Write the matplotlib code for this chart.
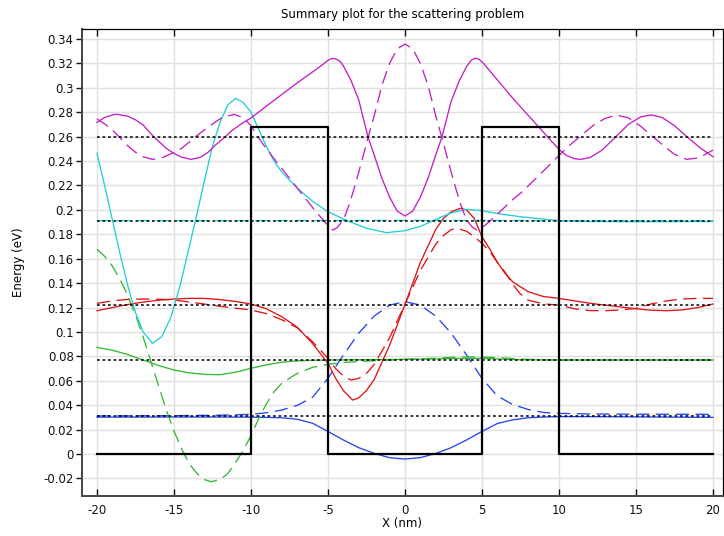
import matplotlib
matplotlib.use('Agg')
import matplotlib.pyplot as plt
from matplotlib.ticker import FuncFormatter, MultipleLocator

plt.rcParams['font.family'] = 'DejaVu Sans'
plt.rcParams['axes.unicode_minus'] = False

# ---------------- data ----------------
# double barrier potential
pot_x = [-20, -10, -10, -5, -5, 5, 5, 10, 10, 20]
pot_v = [0, 0, 0.268, 0.268, 0, 0, 0.268, 0.268, 0, 0]

# eigen energies (dotted lines)
levels = [0.0311, 0.0769, 0.1222, 0.1911, 0.2597]

# level 1 (blue)
blue_x = [-20, -15, -12, -10, -9, -8, -7, -6, -5, -4, -3, -2, -1, 0,
          1, 2, 3, 4, 5, 6, 7, 8, 9, 10, 12, 15, 20]
blue_re = [0.0302, 0.0303, 0.0303, 0.0302, 0.0300, 0.0297, 0.0285, 0.0252, 0.0185,
           0.0115, 0.0052, 0.0005, -0.0030, -0.0041, -0.0030, 0.0005, 0.0052, 0.0115,
           0.0185, 0.0250, 0.0280, 0.0297, 0.0303, 0.0306, 0.0306, 0.0304, 0.0300]
blue_im = [0.0312, 0.0314, 0.0318, 0.0325, 0.0338, 0.0360, 0.0398, 0.0465, 0.0620,
           0.0810, 0.0990, 0.1130, 0.1220, 0.1248, 0.1220, 0.1130, 0.0990, 0.0810,
           0.0620, 0.0475, 0.0405, 0.0365, 0.0340, 0.0333, 0.0328, 0.0326, 0.0325]

# level 2 (green)
green_x_re = [-20, -19, -18, -17, -16, -15, -14, -13, -12, -11, -10, -9, -8, -7,
              -6, -5, -3, 0, 3, 5, 7.5, 10, 20]
green_re = [0.0874, 0.0850, 0.0815, 0.0770, 0.0725, 0.0688, 0.0665, 0.0652, 0.0650,
            0.0670, 0.0702, 0.0730, 0.0752, 0.0763, 0.0768, 0.0770, 0.0772, 0.0776,
            0.0782, 0.0784, 0.0772, 0.0770, 0.0770]
green_x_im = [-20, -19.5, -19, -18.5, -18, -17.5, -17, -16.5, -16, -15.5, -15, -14.5,
              -14, -13.5, -13, -12.6, -12, -11.5, -11, -10.5, -10, -9.5, -9, -8.5,
              -8, -7, -6, -5, -4, -2, 0, 2, 3.5, 5, 6, 7.5, 9, 10, 20]
green_im = [0.1677, 0.1620, 0.1540, 0.1430, 0.1300, 0.1140, 0.0960, 0.0760, 0.0560,
            0.0360, 0.0190, 0.0040, -0.0080, -0.0160, -0.0210, -0.0227, -0.0210,
            -0.0160, -0.0070, 0.0030, 0.0150, 0.0290, 0.0410, 0.0510, 0.0580, 0.0660,
            0.0710, 0.0735, 0.0750, 0.0765, 0.0775, 0.0785, 0.0795, 0.0795, 0.0790,
            0.0778, 0.0772, 0.0770, 0.0770]

# level 3 (red)
red_x_re = [-20, -19, -18, -17, -16, -15, -14, -13, -12, -11, -10, -9, -8, -7, -6,
            -5, -4.5, -4, -3.4, -3, -2.5, -2, -1, 0, 1, 2, 2.5, 3, 3.6, 4, 4.5, 5,
            5.5, 6, 6.5, 7, 7.5, 8, 9, 10, 11, 12, 13, 14, 15, 16, 17, 18, 19, 20]
red_re = [0.1174, 0.1200, 0.1225, 0.1245, 0.1260, 0.1270, 0.1275, 0.1275, 0.1265,
          0.1250, 0.1229, 0.1190, 0.1125, 0.1040, 0.0905, 0.0743, 0.0620, 0.0520,
          0.0442, 0.0460, 0.0520, 0.0610, 0.0890, 0.1225, 0.1570, 0.1840, 0.1930,
          0.1985, 0.2013, 0.2000, 0.1930, 0.1780, 0.1680, 0.1570, 0.1480, 0.1410,
          0.1370, 0.1330, 0.1290, 0.1275, 0.1255, 0.1235, 0.1220, 0.1205, 0.1190,
          0.1178, 0.1174, 0.1180, 0.1200, 0.1229]
red_x_im = [-20, -19, -18, -17, -16, -15, -14, -13, -12, -11, -10, -9, -8, -7, -6,
            -5, -4.5, -4, -3.5, -3, -2.5, -2, -1, 0, 1, 2, 2.5, 3, 3.4, 4, 4.5, 5,
            5.5, 6, 6.5, 7, 7.5, 8, 9, 10, 11, 12, 13, 14, 15, 16, 17, 18, 19, 20]
red_im = [0.1234, 0.1255, 0.1267, 0.1270, 0.1268, 0.1262, 0.1245, 0.1228, 0.1210,
          0.1195, 0.1180, 0.1150, 0.1100, 0.1035, 0.0920, 0.0784, 0.0700, 0.0640,
          0.0606, 0.0620, 0.0660, 0.0733, 0.0952, 0.1228, 0.1504, 0.1720, 0.1790,
          0.1838, 0.1849, 0.1825, 0.1780, 0.1726, 0.1660, 0.1570, 0.1490, 0.1390,
          0.1310, 0.1260, 0.1230, 0.1220, 0.1190, 0.1175, 0.1174, 0.1180, 0.1193,
          0.1230, 0.1255, 0.1270, 0.1275, 0.1275]

# level 4 (cyan)
cyan_x_re = [-20, -19.5, -19, -18.5, -18, -17.5, -17, -16.4, -15.8, -15.2, -14.6,
             -14, -13.5, -13, -12.5, -12, -11.5, -11, -10.5, -10, -9.5, -9, -8.5, -8,
             -7, -6, -5, -3.6, -2.5, -1.2, 0, 1, 1.9, 3, 4, 5, 6, 7.5, 10, 12, 15, 20]
cyan_re = [0.2464, 0.2200, 0.1920, 0.1640, 0.1380, 0.1160, 0.1000, 0.0907, 0.0960,
           0.1120, 0.1380, 0.1700, 0.1970, 0.2250, 0.2520, 0.2720, 0.2860, 0.2914,
           0.2880, 0.2800, 0.2660, 0.2520, 0.2400, 0.2310, 0.2180, 0.2070, 0.1985,
           0.1903, 0.1850, 0.1813, 0.1830, 0.1865, 0.1917, 0.1975, 0.2005, 0.1994,
           0.1970, 0.1944, 0.1912, 0.1905, 0.1903, 0.1905]
cyan_x_im = [-20, -10, -5, 0, 5, 10, 20]
cyan_im = [0.1912, 0.1912, 0.1913, 0.1914, 0.1913, 0.1912, 0.1912]

# level 5 (magenta)
mag_x_re = [-20, -19.5, -19, -18.7, -18, -17.5, -17, -16.3, -15.5, -15, -14.5, -13.9,
            -13.3, -12.8, -12.3, -11.7, -11.2, -10.5, -10, -9, -8, -7, -6, -5.4, -5.0,
            -4.76, -4.5, -4.2, -4, -3.5, -3, -2.4, -2, -1.5, -1, -0.5, 0, 0.5, 1, 1.5,
            2, 2.4, 3, 3.5, 4, 4.3, 4.55, 4.8, 5.1, 5.5, 6, 7, 8, 9, 10, 10.5, 11,
            11.4, 12, 12.8, 13.7, 14.5, 15.3, 16, 16.7, 17.5, 18.3, 19.2, 20]
mag_re = [0.2717, 0.2757, 0.2778, 0.2783, 0.2768, 0.2738, 0.2695, 0.2597, 0.2505,
          0.2462, 0.2432, 0.2414, 0.2430, 0.2470, 0.2532, 0.2595, 0.2654, 0.2715,
          0.2753, 0.2850, 0.2945, 0.3040, 0.3130, 0.3185, 0.3225, 0.3240, 0.3238,
          0.3215, 0.3180, 0.3060, 0.2900, 0.2597, 0.2450, 0.2260, 0.2105, 0.1990,
          0.1950, 0.1990, 0.2105, 0.2260, 0.2450, 0.2597, 0.2890, 0.3050, 0.3175,
          0.3225, 0.3243, 0.3235, 0.3200, 0.3140, 0.3065, 0.2915, 0.2775, 0.2635,
          0.2495, 0.2445, 0.2420, 0.2414, 0.2428, 0.2490, 0.2600, 0.2700, 0.2762,
          0.2778, 0.2757, 0.2690, 0.2600, 0.2505, 0.2436]
mag_x_im = [-20, -19.5, -19, -18.5, -18, -17.5, -17, -16.4, -15.8, -15.2, -14.5, -13.6,
            -12.75, -11.9, -11.1, -10.5, -10, -9.5, -9, -8, -7, -6, -5.3, -4.9, -4.67,
            -4.4, -4, -3.6, -3.14, -2.4, -2, -1.5, -1, -0.5, 0, 0.5, 1, 1.5, 2, 2.4,
            3.14, 3.6, 4, 4.4, 4.67, 4.9, 5.5, 6, 7, 7.5, 8, 9, 10, 10.6, 11.4, 12.2,
            13, 13.74, 14.5, 15.3, 16.1, 16.8, 17.5, 18.3, 19, 19.5, 20]
mag_im = [0.2745, 0.2705, 0.2655, 0.2590, 0.2525, 0.2472, 0.2435, 0.2414, 0.2425,
          0.2460, 0.2504, 0.2600, 0.2682, 0.2755, 0.2783, 0.2755, 0.2690, 0.2590,
          0.2500, 0.2340, 0.2180, 0.2020, 0.1915, 0.1855, 0.1835, 0.1855, 0.1917,
          0.2050, 0.2245, 0.2590, 0.2770, 0.3020, 0.3200, 0.3320, 0.3358, 0.3320,
          0.3200, 0.3020, 0.2770, 0.2590, 0.2245, 0.2050, 0.1917, 0.1855, 0.1835,
          0.1845, 0.1905, 0.1965, 0.2085, 0.2136, 0.2196, 0.2320, 0.2445, 0.2520,
          0.2605, 0.2690, 0.2750, 0.2777, 0.2755, 0.2685, 0.2600, 0.2525, 0.2455,
          0.2414, 0.2425, 0.2455, 0.2490]

# ---------------- figure ----------------
fig = plt.figure(figsize=(7.24, 5.36), dpi=100)
ax = fig.add_axes([82 / 724, 40 / 536, 641 / 724, 467 / 536])

c_blue = '#2346f0'
c_green = '#33b833'
c_red = '#dd1515'
c_cyan = '#22cfd6'
c_mag = '#c41ec4'
lw = 0.95
dash = (10, 5)

curves = [
    (blue_x, blue_re, blue_x, blue_im, c_blue),
    (green_x_re, green_re, green_x_im, green_im, c_green),
    (red_x_re, red_re, red_x_im, red_im, c_red),
    (cyan_x_re, cyan_re, cyan_x_im, cyan_im, c_cyan),
    (mag_x_re, mag_re, mag_x_im, mag_im, c_mag),
]
for xr, yr, xi, yi, col in curves:
    ax.plot(xr, yr, color=col, lw=lw, zorder=3)
    ax.plot(xi, yi, color=col, lw=lw, dashes=dash, zorder=3)

for e in levels:
    ax.plot([-20, 20], [e, e], color='black', lw=1.1, dashes=(1.8, 1.8), zorder=4)

ax.plot(pot_x, pot_v, color='black', lw=1.6, zorder=5)

ax.set_xlim(-20.97, 20.65)
ax.set_ylim(-0.0344, 0.3482)
ax.xaxis.set_major_locator(MultipleLocator(5))
ax.yaxis.set_major_locator(MultipleLocator(0.02))
ax.yaxis.set_major_formatter(FuncFormatter(lambda v, p: f'{round(v, 4):g}'))
ax.xaxis.set_major_formatter(FuncFormatter(lambda v, p: f'{v:g}'))

ax.grid(True, color='#e0e0e0', lw=1.0, zorder=0)
ax.set_axisbelow(True)

for side in ['left', 'bottom']:
    ax.spines[side].set_color('#444444')
    ax.spines[side].set_linewidth(1.4)
for side in ['top', 'right']:
    ax.spines[side].set_color('black')
    ax.spines[side].set_linewidth(0.9)

ax.tick_params(axis='x', direction='in', length=5, width=1.0, top=True,
               labelsize=8.5, pad=6, colors='#111111')
ax.tick_params(axis='y', direction='out', length=4, width=1.0, labelsize=8.5,
               pad=2, colors='#111111')
ax.tick_params(axis='y', which='major', right=True)

ax.set_xlabel('X (nm)', fontsize=8.5, labelpad=0)
ax.set_ylabel('Energy (eV)', fontsize=8.5, labelpad=13)
ax.set_title('Summary plot for the scattering problem', fontsize=8.5, pad=8)

fig.savefig('out.png', dpi=100)
